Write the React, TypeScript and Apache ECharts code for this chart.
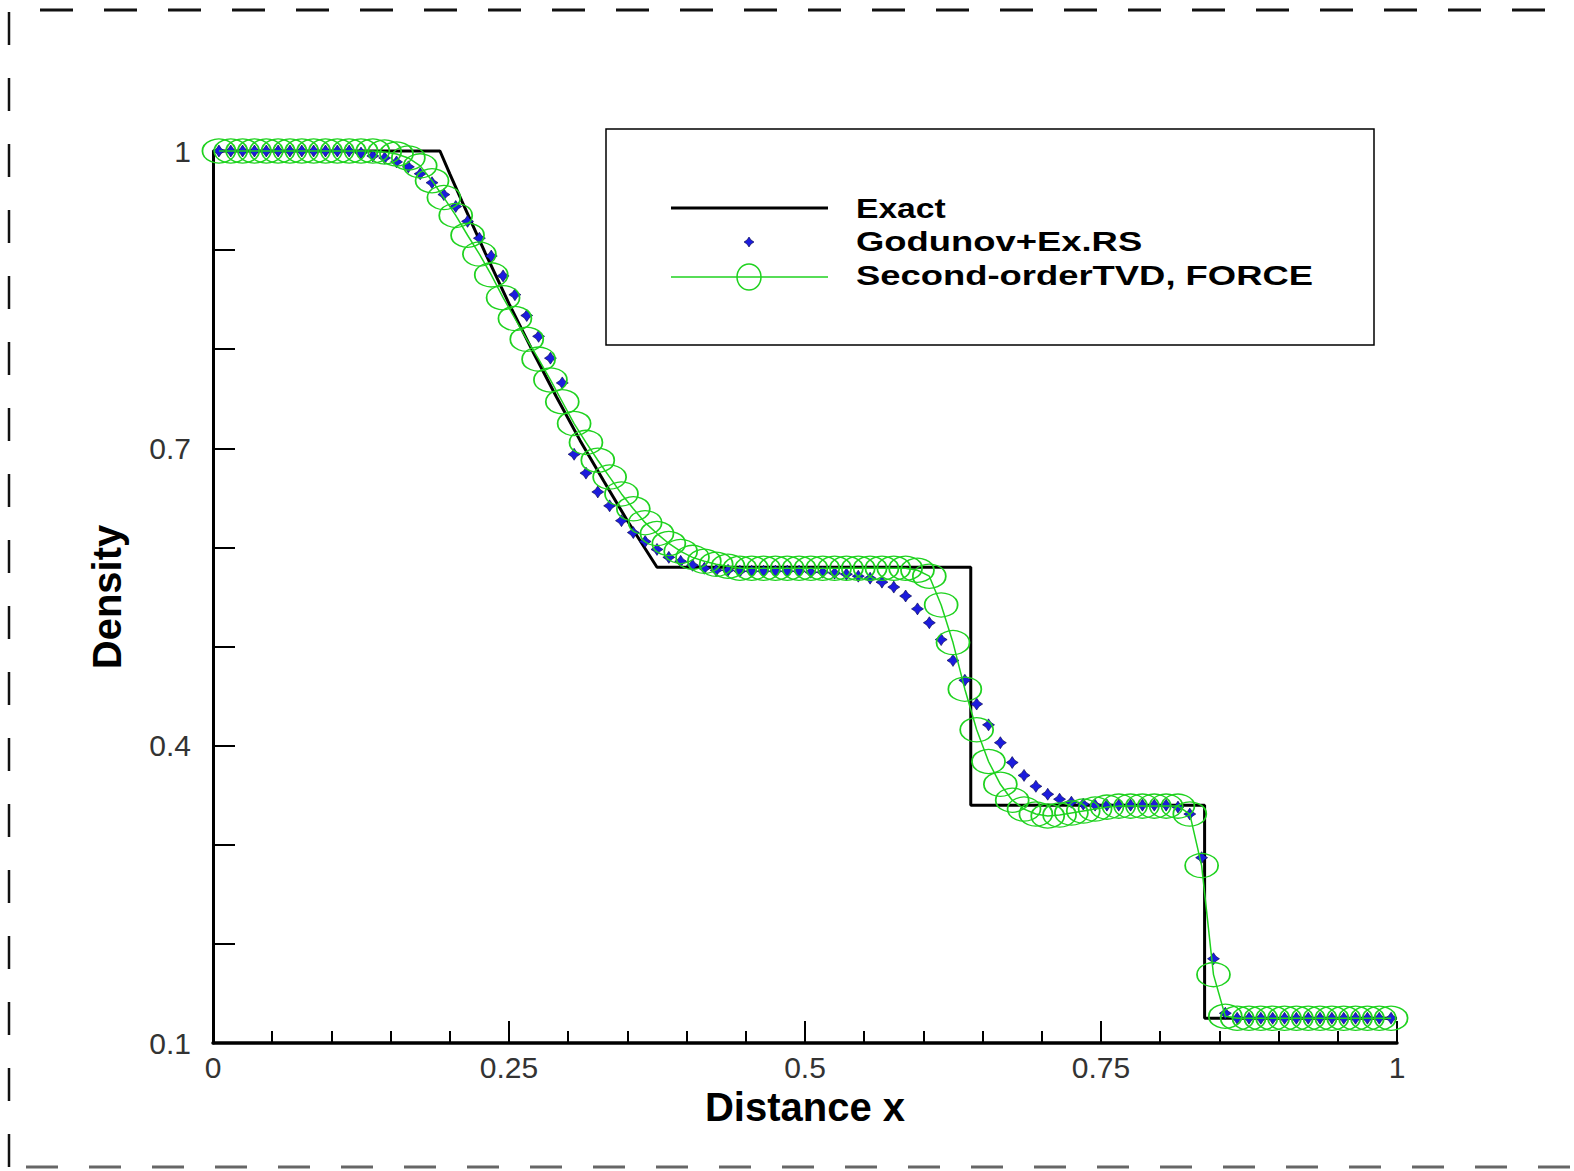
import React, { useEffect, useRef } from "react";
import * as echarts from "echarts";

// ---------------- data ----------------
// x positions of the 100 computational cells (cell centres)
const CELL_COUNT = 100;
const xCells: number[] = Array.from({ length: CELL_COUNT }, (_, i) => (i + 0.5) / CELL_COUNT);

// exact solution (polyline vertices) [x, density]
const exactX: number[] = [0, 0.1917, 0.2, 0.21, 0.23, 0.25, 0.27, 0.29, 0.31, 0.33, 0.35, 0.375, 0.64, 0.64, 0.8375, 0.8375, 1];
const exactY: number[] = [1, 1, 0.977, 0.95, 0.897, 0.846, 0.798, 0.752, 0.708, 0.667, 0.627, 0.58, 0.58, 0.34, 0.34, 0.125, 0.125];

// Godunov + exact Riemann solver (blue stars)
const godunov: number[] = [
  1, 1, 1, 1, 1, 1, 1, 1, 1, 1,
  1, 1, 0.998, 0.995, 0.993, 0.989, 0.984, 0.977, 0.968, 0.956,
  0.944, 0.929, 0.912, 0.894, 0.874, 0.855, 0.834, 0.813, 0.791, 0.766,
  0.694, 0.675, 0.656, 0.642, 0.627, 0.615, 0.606, 0.598, 0.59, 0.586,
  0.582, 0.579, 0.577, 0.577, 0.576, 0.576, 0.576, 0.576, 0.576, 0.576,
  0.575, 0.575, 0.574, 0.573, 0.571, 0.569, 0.565, 0.56, 0.551, 0.538,
  0.524, 0.507, 0.486, 0.466, 0.442, 0.421, 0.403, 0.383, 0.37, 0.359,
  0.351, 0.346, 0.343, 0.341, 0.34, 0.34, 0.34, 0.34, 0.34, 0.34,
  0.34, 0.338, 0.331, 0.287, 0.185, 0.13, 0.125, 0.125, 0.125, 0.125,
  0.125, 0.125, 0.125, 0.125, 0.125, 0.125, 0.125, 0.125, 0.125, 0.125,
];

// Second-order TVD, FORCE (green circles)
const tvdForce: number[] = [
  1, 1, 1, 1, 1, 1, 1, 1, 1, 1,
  1, 1, 1, 1, 0.999, 0.997, 0.993, 0.985, 0.97, 0.953,
  0.935, 0.915, 0.896, 0.875, 0.852, 0.831, 0.81, 0.79, 0.769, 0.747,
  0.725, 0.706, 0.688, 0.671, 0.654, 0.639, 0.625, 0.614, 0.604, 0.596,
  0.59, 0.586, 0.583, 0.581, 0.579, 0.579, 0.579, 0.579, 0.579, 0.579,
  0.579, 0.579, 0.579, 0.579, 0.579, 0.579, 0.579, 0.579, 0.579, 0.577,
  0.571, 0.542, 0.504, 0.457, 0.416, 0.384, 0.361, 0.345, 0.336, 0.331,
  0.329, 0.33, 0.332, 0.334, 0.336, 0.338, 0.339, 0.339, 0.339, 0.339,
  0.339, 0.339, 0.331, 0.279, 0.169, 0.127, 0.125, 0.125, 0.125, 0.125,
  0.125, 0.125, 0.125, 0.125, 0.125, 0.125, 0.125, 0.125, 0.125, 0.125,
];

const xTickLabels: string[] = ["0", "0.25", "0.5", "0.75", "1"];
const yTickLabels: string[] = ["0.1", "0.4", "0.7", "1"];

const seriesNames: string[] = ["Exact", "Godunov+Ex.RS", "Second-order TVD, FORCE"];

// ---------------- styles ----------------
const GREEN = "#1fd21f";
const BLUE = "#1c1cdc";
const STAR_PATH = "path://M5 0 L7 3 L10 5 L7 7 L5 10 L3 7 L0 5 L3 3 Z";
const FONT = "'Liberation Sans', Arial, sans-serif";

export default function App() {
  const ref = useRef<HTMLDivElement>(null);

  useEffect(() => {
    if (!ref.current) return;
    const chart = echarts.init(ref.current, undefined, { renderer: "svg" });

    const exactData = exactX.map((x, i) => [x, exactY[i]]);
    const godData = godunov.map((v, i) => [xCells[i], v]);
    const tvdData = tvdForce.map((v, i) => [xCells[i], v]);

    const legendTextStyle = (text: string) => ({
      text,
      font: `bold 28px ${FONT}`,
      fill: "#000",
      verticalAlign: "middle" as const,
      align: "left" as const,
    });

    const option: any = {
      animation: false,
      backgroundColor: "#fff",
      grid: { left: 213, right: 177, top: 151, bottom: 128 },
      xAxis: {
        type: "value",
        min: 0,
        max: 1,
        interval: 0.25,
        name: "Distance x",
        nameLocation: "middle",
        nameGap: 38,
        nameTextStyle: { fontFamily: FONT, fontWeight: "bold", fontSize: 40, color: "#000" },
        axisLine: { show: true, onZero: false, lineStyle: { color: "#000", width: 3.5 } },
        axisTick: { show: true, inside: true, length: 22, lineStyle: { color: "#000", width: 2 } },
        minorTick: { show: true, splitNumber: 5, length: 12, lineStyle: { color: "#000", width: 2 } },
        splitLine: { show: false },
        minorSplitLine: { show: false },
        axisLabel: {
          margin: 9,
          fontFamily: FONT,
          fontSize: 30,
          color: "#333",
          formatter: (v: number) => xTickLabels[Math.round(v * 4)] ?? "",
        },
      },
      yAxis: {
        type: "value",
        min: 0.1,
        max: 1,
        interval: 0.1,
        name: "Density",
        nameLocation: "middle",
        nameRotate: 90,
        nameGap: 86,
        nameTextStyle: { fontFamily: FONT, fontWeight: "bold", fontSize: 40, color: "#000" },
        axisLine: { show: true, onZero: false, lineStyle: { color: "#000", width: 3 } },
        axisTick: { show: true, inside: true, length: 22, lineStyle: { color: "#000", width: 2 } },
        splitLine: { show: false },
        axisLabel: {
          margin: 22,
          fontFamily: FONT,
          fontSize: 30,
          color: "#333",
          formatter: (v: number) => {
            const k = Math.round(v * 10) - 1;
            return k % 3 === 0 ? yTickLabels[k / 3] ?? "" : "";
          },
        },
      },
      series: [
        {
          name: seriesNames[0],
          type: "line",
          data: exactData,
          symbol: "none",
          clip: false,
          lineStyle: { color: "#000", width: 3 },
          z: 2,
        },
        {
          name: seriesNames[1],
          type: "scatter",
          data: godData,
          symbol: STAR_PATH,
          symbolSize: 12,
          clip: false,
          itemStyle: { color: BLUE, borderColor: "#000044", borderWidth: 0.6, opacity: 1 },
          z: 3,
        },
        {
          name: seriesNames[2],
          type: "line",
          data: tvdData,
          symbol: "circle",
          symbolSize: [33, 24],
          showAllSymbol: true,
          clip: false,
          lineStyle: { color: GREEN, width: 1.5 },
          itemStyle: { color: "rgba(0,0,0,0)", borderColor: GREEN, borderWidth: 1.5 },
          z: 4,
        },
      ],
      graphic: [
        // dashed page frame
        {
          type: "line",
          shape: { x1: 40, y1: 10, x2: 1574, y2: 10 },
          style: { stroke: "#111", lineWidth: 3, lineDash: [33, 31] },
          silent: true,
        },
        {
          type: "line",
          shape: { x1: 9, y1: 12, x2: 9, y2: 1171 },
          style: { stroke: "#111", lineWidth: 2.5, lineDash: [33, 33] },
          silent: true,
        },
        {
          type: "line",
          shape: { x1: 26, y1: 1167, x2: 1574, y2: 1167 },
          style: { stroke: "#666", lineWidth: 3, lineDash: [32, 31] },
          silent: true,
        },
        // legend box
        {
          type: "rect",
          shape: { x: 606, y: 129, width: 768, height: 216 },
          style: { fill: "#fff", stroke: "#000", lineWidth: 1.5 },
          z: 10,
        },
        {
          type: "line",
          shape: { x1: 671, y1: 208, x2: 828, y2: 208 },
          style: { stroke: "#000", lineWidth: 3 },
          z: 11,
        },
        {
          type: "polygon",
          shape: {
            points: [
              [749, 237], [751, 240], [754, 242], [751, 244],
              [749, 247], [747, 244], [744, 242], [747, 240],
            ],
          },
          style: { fill: BLUE, stroke: "#000044", lineWidth: 0.6 },
          z: 11,
        },
        {
          type: "line",
          shape: { x1: 671, y1: 277, x2: 828, y2: 277 },
          style: { stroke: GREEN, lineWidth: 1.5 },
          z: 11,
        },
        {
          type: "ellipse",
          shape: { cx: 749, cy: 277, rx: 12, ry: 13 },
          style: { fill: "rgba(0,0,0,0)", stroke: GREEN, lineWidth: 1.5 },
          z: 12,
        },
        { type: "text", x: 856, y: 208, scaleX: 1.2, style: legendTextStyle(seriesNames[0]), z: 11 },
        { type: "text", x: 856, y: 242, scaleX: 1.3, style: legendTextStyle(seriesNames[1]), z: 11 },
        { type: "text", x: 856, y: 276, scaleX: 1.3, style: legendTextStyle("Second-orderTVD, FORCE"), z: 11 },
      ],
    };

    chart.setOption(option);
    return () => chart.dispose();
  }, []);

  return (
    <div
      ref={ref}
      style={{ position: "fixed", left: 0, top: 0, width: 1574, height: 1171, background: "#fff" }}
    />
  );
}
